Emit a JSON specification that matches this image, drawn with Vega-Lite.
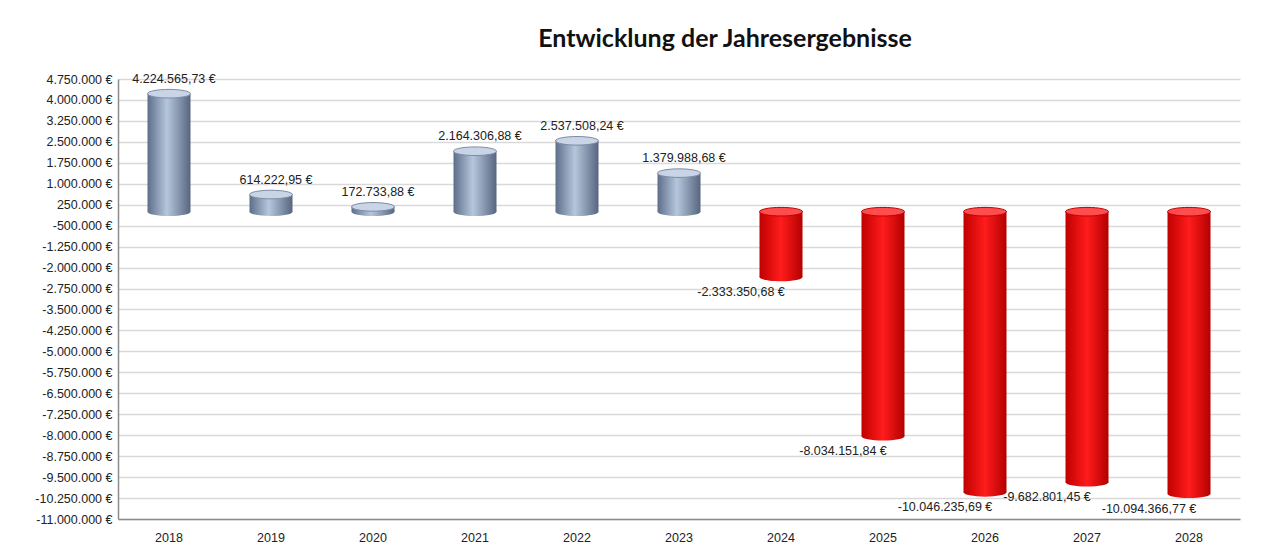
{
  "$schema": "https://vega.github.io/schema/vega-lite/v6.json",
  "width": 1122,
  "height": 440,
  "autosize": {"type": "none"},
  "padding": {"left": 118, "top": 79, "right": 26, "bottom": 36},
  "background": "white",
  "title": {
    "text": "Entwicklung der Jahresergebnisse",
    "font": "Lato",
    "fontSize": 25,
    "fontWeight": "bold",
    "color": "#111111",
    "anchor": "middle",
    "dx": 46,
    "offset": 21
  },
  "config": {
    "locale": {"number": {"decimal": ",", "thousands": ".", "grouping": [3], "currency": ["", " €"], "minus": "-"}},
    "view": {"stroke": null},
    "axis": {"labelFont": "Liberation Sans", "labelFontSize": 12.5, "labelColor": "#222222", "title": null}
  },
  "data": {
    "values": [
      {"Jahr": "2018", "Wert": 4224565.73},
      {"Jahr": "2019", "Wert": 614222.95},
      {"Jahr": "2020", "Wert": 172733.88},
      {"Jahr": "2021", "Wert": 2164306.88},
      {"Jahr": "2022", "Wert": 2537508.24},
      {"Jahr": "2023", "Wert": 1379988.68},
      {"Jahr": "2024", "Wert": -2333350.68},
      {"Jahr": "2025", "Wert": -8034151.84},
      {"Jahr": "2026", "Wert": -10046235.69},
      {"Jahr": "2027", "Wert": -9682801.45},
      {"Jahr": "2028", "Wert": -10094366.77}
    ]
  },
  "encoding": {
    "x": {
      "field": "Jahr",
      "type": "ordinal",
      "title": null,
      "scale": {"paddingInner": 0.1, "paddingOuter": 0.05},
      "axis": {"labelAngle": 0, "ticks": false, "domainColor": "#8c8c8c", "domainWidth": 1.5, "labelPadding": 12}
    }
  },
  "layer": [
    {
      "mark": {"type": "rule", "color": "#7f7f7f", "strokeWidth": 1.5},
      "encoding": {
        "y": {
          "datum": 0,
          "type": "quantitative",
          "scale": {"domain": [-11000000, 4750000], "nice": false, "zero": false},
          "title": null,
          "axis": {
            "values": [4750000, 4000000, 3250000, 2500000, 1750000, 1000000, 250000, -500000, -1250000, -2000000, -2750000, -3500000, -4250000, -5000000, -5750000, -6500000, -7250000, -8000000, -8750000, -9500000, -10250000, -11000000],
            "tickCount": 40,
            "format": "$,.0f",
            "labelOverlap": false,
            "ticks": false,
            "labelPadding": 6,
            "domainColor": "#8c8c8c",
            "domainWidth": 1.5,
            "grid": true,
            "gridColor": "#d9d9d9",
            "gridWidth": 1.5
          }
        }
      }
    },
    {
      "transform": [{"filter": "datum.Wert >= 0"}],
      "mark": {
        "type": "point",
        "shape": "M -1 0 A 1 0.2 0 1 1 1 0 A 1 0.2 0 1 1 -1 0 Z",
        "size": 1849,
        "filled": true,
        "opacity": 1,
        "strokeWidth": 0,
        "color": {"gradient": "linear", "x1": 0, "x2": 1, "y1": 0, "y2": 0,
          "stops": [{"offset": 0, "color": "#5d6e89"}, {"offset": 0.45, "color": "#b6c6dd"}, {"offset": 1, "color": "#56667f"}]}
      },
      "encoding": {"y": {"datum": 0, "type": "quantitative"}}
    },
    {
      "transform": [{"filter": "datum.Wert < 0"}],
      "mark": {
        "type": "point",
        "shape": "M -1 0 A 1 0.2 0 1 1 1 0 A 1 0.2 0 1 1 -1 0 Z",
        "size": 1849,
        "filled": true,
        "opacity": 1,
        "strokeWidth": 0,
        "color": {"gradient": "linear", "x1": 0, "x2": 1, "y1": 0, "y2": 0,
          "stops": [{"offset": 0, "color": "#c00000"}, {"offset": 0.5, "color": "#ff1c1c"}, {"offset": 1, "color": "#b40000"}]}
      },
      "encoding": {"y": {"field": "Wert", "type": "quantitative"}}
    },
    {
      "transform": [{"filter": "datum.Wert >= 0"}],
      "mark": {
        "type": "bar",
        "size": 43,
        "color": {"gradient": "linear", "x1": 0, "x2": 1, "y1": 0, "y2": 0,
          "stops": [{"offset": 0, "color": "#5d6e89"}, {"offset": 0.45, "color": "#b6c6dd"}, {"offset": 1, "color": "#56667f"}]}
      },
      "encoding": {"y": {"field": "Wert", "type": "quantitative"}}
    },
    {
      "transform": [{"filter": "datum.Wert < 0"}],
      "mark": {
        "type": "bar",
        "size": 43,
        "color": {"gradient": "linear", "x1": 0, "x2": 1, "y1": 0, "y2": 0,
          "stops": [{"offset": 0, "color": "#c00000"}, {"offset": 0.5, "color": "#ff1c1c"}, {"offset": 1, "color": "#b40000"}]}
      },
      "encoding": {"y": {"field": "Wert", "type": "quantitative"}}
    },
    {
      "transform": [{"filter": "datum.Wert >= 0"}],
      "mark": {
        "type": "point",
        "shape": "M -1 0 A 1 0.2 0 1 1 1 0 A 1 0.2 0 1 1 -1 0 Z",
        "size": 1849,
        "filled": true,
        "opacity": 1,
        "color": "#c9d5e6",
        "stroke": "#7d8ca6",
        "strokeWidth": 1
      },
      "encoding": {"y": {"field": "Wert", "type": "quantitative"}}
    },
    {
      "transform": [{"filter": "datum.Wert < 0"}],
      "mark": {
        "type": "point",
        "shape": "M -1 0 A 1 0.2 0 1 1 1 0 A 1 0.2 0 1 1 -1 0 Z",
        "size": 1849,
        "filled": true,
        "opacity": 1,
        "color": "#ff4d4d",
        "stroke": "#c00000",
        "strokeWidth": 1
      },
      "encoding": {"y": {"datum": 0, "type": "quantitative"}}
    },
    {
      "transform": [{"filter": "datum.Wert >= 0"}],
      "mark": {"type": "text", "baseline": "bottom", "dy": -8, "dx": 5, "font": "Liberation Sans", "fontSize": 12.5, "color": "#222222"},
      "encoding": {
        "y": {"field": "Wert", "type": "quantitative"},
        "text": {"field": "Wert", "type": "quantitative", "format": "$,.2f"}
      }
    },
    {
      "transform": [{"filter": "datum.Wert < 0"}],
      "mark": {"type": "text", "baseline": "top", "dy": 9, "dx": -40, "font": "Liberation Sans", "fontSize": 12.5, "color": "#222222"},
      "encoding": {
        "y": {"field": "Wert", "type": "quantitative"},
        "text": {"field": "Wert", "type": "quantitative", "format": "$,.2f"}
      }
    }
  ]
}
